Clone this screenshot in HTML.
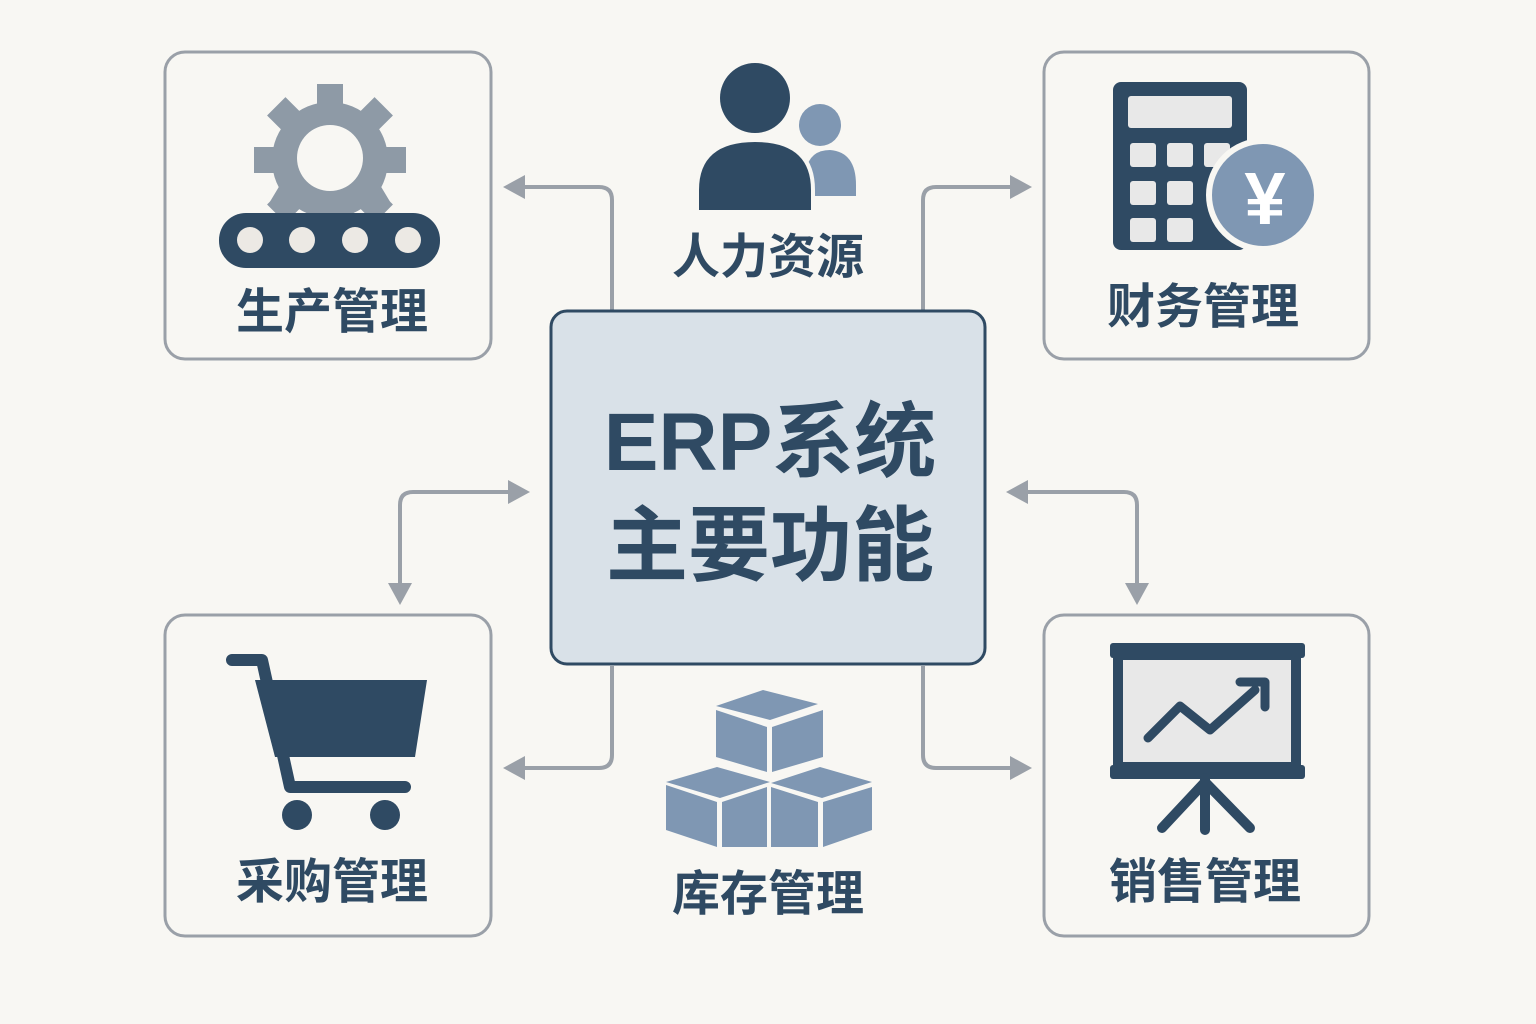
<!DOCTYPE html>
<html><head><meta charset="utf-8"><style>
html,body{margin:0;padding:0;background:#f8f7f3;}
svg{display:block}
text{font-family:"Liberation Sans","Noto Sans CJK SC",sans-serif;font-weight:bold;fill:#2f4a63;text-anchor:middle}
</style></head><body>
<svg width="1536" height="1024" viewBox="0 0 1536 1024">
<rect width="1536" height="1024" fill="#f8f7f3"/>
<g fill="none" stroke="#9aa0a8" stroke-width="3">
<rect x="165" y="52" width="326" height="307" rx="20"/>
<rect x="1044" y="52" width="325" height="307" rx="20"/>
<rect x="165" y="615" width="326" height="321" rx="20"/>
<rect x="1044" y="615" width="325" height="321" rx="20"/>
</g>
<g fill="none" stroke="#9aa0a8" stroke-width="4">
<path d="M612,310 V200 Q612,187 599,187 H522"/>
<path d="M923,310 V200 Q923,187 936,187 H1013"/>
<path d="M400,588 V505 Q400,492 413,492 H512"/>
<path d="M1024,492 H1124 Q1137,492 1137,505 V588"/>
<path d="M612,666 V755 Q612,768 599,768 H522"/>
<path d="M923,666 V755 Q923,768 936,768 H1013"/>
</g>
<g fill="#9aa0a8">
<polygon points="503,187 525,175 525,199"/>
<polygon points="1032,187 1010,175 1010,199"/>
<polygon points="530,492 508,480 508,504"/>
<polygon points="400,605 388,583 412,583"/>
<polygon points="1006,492 1028,480 1028,504"/>
<polygon points="1137,605 1125,583 1149,583"/>
<polygon points="503,768 525,756 525,780"/>
<polygon points="1032,768 1010,756 1010,780"/>
</g>
<rect x="551" y="311" width="434" height="353" rx="16" fill="#d9e1e8" stroke="#2f4a63" stroke-width="3"/>
<text x="770" y="470" font-size="82">ERP系统</text>
<text x="770" y="574" font-size="82">主要功能</text>
<!-- gear -->
<g fill="#8e9aa6">
<circle cx="330" cy="160" r="58"/>
<g>
<rect x="317" y="84" width="26" height="30"/>
<rect x="317" y="84" width="26" height="30" transform="rotate(45 330 160)"/>
<rect x="317" y="84" width="26" height="30" transform="rotate(90 330 160)"/>
<rect x="317" y="84" width="26" height="30" transform="rotate(-45 330 160)"/>
<rect x="317" y="84" width="26" height="30" transform="rotate(-90 330 160)"/>
<rect x="317" y="84" width="26" height="30" transform="rotate(135 330 160)"/>
<rect x="317" y="84" width="26" height="30" transform="rotate(-135 330 160)"/>
</g>
<polygon points="268,205 392,205 377,180 283,180"/>
</g>
<circle cx="330" cy="158" r="33" fill="#f8f7f3"/>
<rect x="219" y="213" width="221" height="55" rx="27" fill="#2f4a63"/>
<g fill="#ece9e4"><circle cx="250" cy="240" r="13"/><circle cx="302" cy="240" r="13"/><circle cx="355" cy="240" r="13"/><circle cx="408" cy="240" r="13"/></g>
<text x="332" y="328" font-size="48">生产管理</text>
<!-- people -->
<circle cx="820" cy="125" r="21" fill="#7f97b3"/>
<path d="M806,196 V170 Q810,150 830,150 Q856,152 856,185 V196 Z" fill="#7f97b3"/>
<circle cx="755" cy="98" r="35" fill="#2f4a63"/>
<path d="M697,212 V190 Q697,140 755,140 Q813,140 813,190 V212 Z" fill="#2f4a63" stroke="#f8f7f3" stroke-width="4"/>
<text x="768" y="273" font-size="48">人力资源</text>
<!-- calculator -->
<rect x="1113" y="82" width="134" height="168" rx="8" fill="#2f4a63"/>
<rect x="1128" y="96" width="104" height="32" rx="3" fill="#e8e8e8"/>
<g fill="#e8e8e8">
<rect x="1130" y="143" width="26" height="24" rx="3"/><rect x="1167" y="143" width="26" height="24" rx="3"/><rect x="1204" y="143" width="26" height="24" rx="3"/>
<rect x="1130" y="181" width="26" height="24" rx="3"/><rect x="1167" y="181" width="26" height="24" rx="3"/>
<rect x="1130" y="218" width="26" height="24" rx="3"/><rect x="1167" y="218" width="26" height="24" rx="3"/>
</g>
<circle cx="1263" cy="195" r="54" fill="#7f97b3" stroke="#f8f7f3" stroke-width="6"/>
<text x="1265" y="224" font-size="74" style="fill:#fff">¥</text>
<text x="1203" y="323" font-size="48">财务管理</text>
<!-- cart -->
<path d="M232,660 H262 L290,787 H405" fill="none" stroke="#2f4a63" stroke-width="12" stroke-linecap="round" stroke-linejoin="round"/>
<polygon points="255,680 427,680 415,757 275,757" fill="#2f4a63"/>
<circle cx="297" cy="815" r="15" fill="#2f4a63"/><circle cx="385" cy="815" r="15" fill="#2f4a63"/>
<text x="332" y="898" font-size="48">采购管理</text>
<!-- boxes -->
<g fill="#7f97b3">
<polygon points="716,706 763,690 818,704 770,720"/>
<polygon points="716,710 767,727 767,772 716,757"/>
<polygon points="772,727 823,710 823,757 772,772"/>
<polygon points="666,782 717,767 770,782 720,798"/>
<polygon points="666,785 717,802 717,847 666,830"/>
<polygon points="722,802 767,787 767,847 722,847"/>
<polygon points="771,783 820,767 872,782 822,798"/>
<polygon points="771,787 818,802 818,847 771,847"/>
<polygon points="823,802 872,787 872,830 823,847"/>
</g>
<text x="768" y="910" font-size="48">库存管理</text>
<!-- presentation -->
<rect x="1118" y="655" width="178" height="112" fill="#e8e8e8" stroke="#2f4a63" stroke-width="10"/>
<rect x="1110" y="643" width="195" height="15" rx="3" fill="#2f4a63"/>
<rect x="1110" y="765" width="195" height="14" rx="3" fill="#2f4a63"/>
<path d="M1205,778 V830 M1205,782 L1162,828 M1205,782 L1250,828" stroke="#2f4a63" stroke-width="10" stroke-linecap="round" fill="none"/>
<polyline points="1148,738 1180,706 1210,730 1255,690" fill="none" stroke="#2f4a63" stroke-width="9" stroke-linecap="round" stroke-linejoin="round"/>
<path d="M1240,682 H1265 V707" fill="none" stroke="#2f4a63" stroke-width="9" stroke-linecap="round" stroke-linejoin="round"/>
<text x="1205" y="898" font-size="48">销售管理</text>
</svg>
</body></html>
